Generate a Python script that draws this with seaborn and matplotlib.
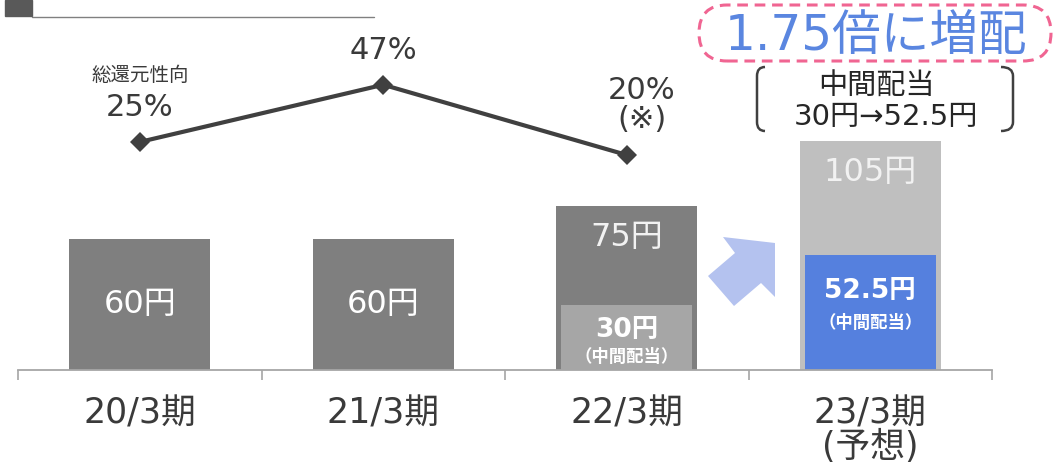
import numpy as np
import pandas as pd
import matplotlib
matplotlib.use("Agg")
import matplotlib.pyplot as plt
from matplotlib.patches import FancyBboxPatch, Polygon, Rectangle, PathPatch
from matplotlib.path import Path
from matplotlib.transforms import IdentityTransform
import seaborn as sns

# --- data -------------------------------------------------------------
periods = ["20/3期", "21/3期", "22/3期", "23/3期"]
period_labels = ["20/3期", "21/3期", "22/3期", "23/3期\n(予想)"]
dividend_total = [60, 60, 75, 105]
interim_periods = ["22/3期", "23/3期"]
interim_dividend = [30, 52.5]
payout_periods = ["20/3期", "21/3期", "22/3期"]
payout_ratio = [25, 47, 20]
payout_notes = ["", "", "(※)"]

W, H = 1054, 470
TXT = "#3a3a3a"

sns.set_theme(style="white")
# Latin glyphs from DejaVu Sans, Japanese glyphs fall back to Noto Sans CJK
plt.rcParams["font.family"] = ["DejaVu Sans", "Noto Sans CJK JP"]

fig = plt.figure(figsize=(W / 100, H / 100), dpi=100)
ax = fig.add_axes([18 / W, 100 / H, 974 / W, 370 / H])

total_colors = {"20/3期": "#7f7f7f", "21/3期": "#7f7f7f",
                "22/3期": "#7f7f7f", "23/3期": "#bfbfbf"}
interim_colors = {"22/3期": "#a6a6a6", "23/3期": "#5580de"}

df_total = pd.DataFrame({"period": periods, "dividend": dividend_total})
df_int = pd.DataFrame({"period": interim_periods, "dividend": interim_dividend})

sns.barplot(data=df_total, x="period", y="dividend", hue="period",
            palette=total_colors, order=periods, hue_order=periods,
            width=0.58, saturation=1, linewidth=0, legend=False, ax=ax)
sns.barplot(data=df_int, x="period", y="dividend", hue="period",
            palette=interim_colors, order=periods, hue_order=interim_periods,
            width=0.54, saturation=1, linewidth=0, legend=False, ax=ax)
ax.set_ylim(0, 169.5)
ax.set_xlim(-0.5, 3.5)

# dividend labels
for i, (p, v) in enumerate(zip(periods, dividend_total)):
    if p in interim_periods:
        ax.annotate(f"{v:g}円", xy=(i, v), xytext=(0, -22.5), textcoords="offset points",
                    ha="center", va="center", fontsize=23, color="#f2f2f2")
    else:
        ax.text(i, v / 2, f"{v:g}円", ha="center", va="center", fontsize=23, color="white")

interim_offsets = {"22/3期": (-18, -37.5), "23/3期": (-25.5, -49)}
for p, v in zip(interim_periods, interim_dividend):
    i = periods.index(p)
    o1, o2 = interim_offsets[p]
    ax.annotate(f"{v:g}円", xy=(i, v), xytext=(0, o1), textcoords="offset points",
                ha="center", va="center", fontsize=19, fontweight="bold", color="white")
    ax.annotate("（中間配当）", xy=(i, v), xytext=(0, o2), textcoords="offset points",
                ha="center", va="center", fontsize=12.5, fontweight="bold", color="white",
                family=["Noto Sans CJK JP", "DejaVu Sans"])

# payout ratio line on a secondary scale
ax2 = ax.twinx()
ax2.set_ylim(-62.7, 79.6)
pos = [periods.index(p) for p in payout_periods]
sns.lineplot(x=pos, y=payout_ratio, ax=ax2, color="#404040", linewidth=3,
             marker="D", markersize=10, markeredgewidth=0)
for x, v, note in zip(pos, payout_ratio, payout_notes):
    if note:
        ax2.annotate(f"{v}%\n{note}", xy=(x, v), xytext=(11, 36), textcoords="offset points",
                     ha="center", va="center", fontsize=22, color=TXT, linespacing=1.0)
    else:
        ax2.annotate(f"{v}%", xy=(x, v), xytext=(0, 25), textcoords="offset points",
                     ha="center", va="center", fontsize=22, color=TXT)
ax2.annotate("総還元性向", xy=(pos[0], payout_ratio[0]), xytext=(0, 48),
             textcoords="offset points", ha="center", va="center", fontsize=14, color=TXT)
ax2.set_yticks([])
ax2.set_ylabel("")

# axes styling
for a in (ax, ax2):
    for s in ("top", "right", "left"):
        a.spines[s].set_visible(False)
ax2.spines["bottom"].set_visible(False)
ax.spines["bottom"].set_color("#a6a6a6")
ax.spines["bottom"].set_linewidth(1.3)
ax.set_yticks([])
ax.set_ylabel("")
ax.set_xlabel("")
ax.set_xticks(range(len(periods)))
ax.set_xticklabels(period_labels, fontsize=25, color=TXT, linespacing=0.98)
ax.set_xticks(np.arange(-0.5, len(periods), 1.0), minor=True)
ax.tick_params(axis="x", which="major", length=0, pad=19)
ax.tick_params(axis="x", which="minor", length=7, width=1.2, color="#a6a6a6", bottom=True)
ax.set_xlim(-0.5, 3.5)

# decorations in pixel space
ident = IdentityTransform()
fig.patches.append(Rectangle((5, H - 16), 27, 16, color="#595959", transform=ident, figure=fig))
fig.lines.append(plt.Line2D([32, 374], [H - 16.5, H - 16.5], color="#808080", lw=1,
                            transform=ident, figure=fig))

arrow = Polygon([(723, H - 237), (775, H - 243), (775, H - 297), (761, H - 283),
                 (734, H - 306), (708, H - 276), (735, H - 253)],
                closed=True, color="#b4c2ef", lw=0, transform=ident, figure=fig)
fig.patches.append(arrow)

badge = FancyBboxPatch((699, H - 61), 352, 56, boxstyle="round,pad=0,rounding_size=28",
                       fill=False, edgecolor="#f06592", linewidth=2.2, linestyle=(0, (3.5, 2.2)),
                       transform=ident, figure=fig)
fig.patches.append(badge)
fig.text(876 / W, 1 - 36 / H, "1.75倍に増配", ha="center", va="center",
         fontsize=35, color="#5a86e0")

for xs in ((765, 757), (1001, 1013)):
    x0, x1 = xs
    verts = [(x0, H - 67), (x1, H - 67), (x1, H - 76), (x1, H - 122),
             (x1, H - 131), (x0, H - 131)]
    codes = [Path.MOVETO, Path.CURVE3, Path.CURVE3, Path.LINETO, Path.CURVE3, Path.CURVE3]
    fig.patches.append(PathPatch(Path(verts, codes), fill=False, edgecolor="#404040",
                                 linewidth=1.8, transform=ident, figure=fig))
fig.text(876 / W, 1 - 86 / H, "中間配当", ha="center", va="center", fontsize=21, color="#262626")
fig.text(886 / W, 1 - 117 / H, "30円→52.5円", ha="center", va="center",
         fontsize=21, color="#262626")

fig.savefig("out.png", dpi=100)
